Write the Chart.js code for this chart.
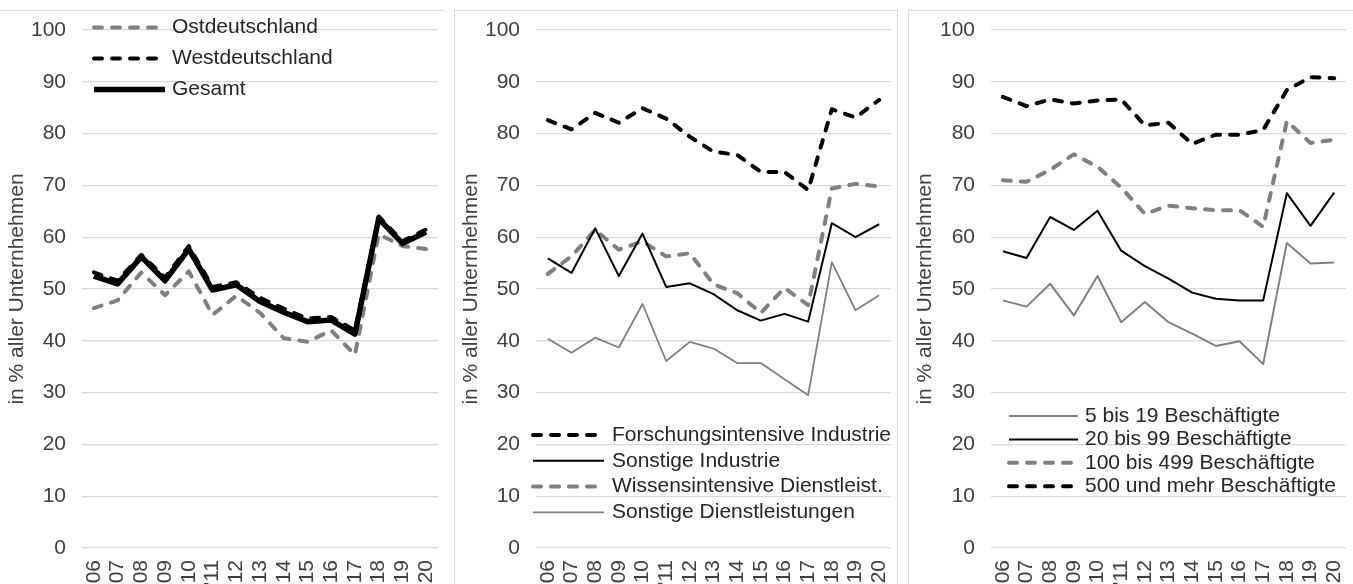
<!DOCTYPE html>
<html>
<head>
<meta charset="utf-8">
<script src="https://cdn.jsdelivr.net/npm/chart.js@4.4.1/dist/chart.umd.min.js"></script>
<style>
  body { margin: 0; background: #fff; overflow: hidden; width: 1353px; height: 584px; position: relative; font-family: "Liberation Sans", Arial, sans-serif; }
  canvas { position: absolute; }
  .rahmen { position: absolute; border: 1px solid #d9d9d9; }
</style>
</head>
<body>
<div class="rahmen" style="left:-10px; top:10px; width:453px; height:620px; border-right:none;"></div>
<div class="rahmen" style="left:454px; top:10px; width:442px; height:620px;"></div>
<div class="rahmen" style="left:908px; top:10px; width:460px; height:620px;"></div>

<canvas id="chart_region" width="443" height="610" style="left:0; top:11px;"></canvas>
<canvas id="chart_branche" width="443" height="610" style="left:454px; top:11px;"></canvas>
<canvas id="chart_groesse" width="445" height="610" style="left:908px; top:11px;"></canvas>

<script>
// Jahre (Kategorien der x-Achse)
const jahre = ["'06", "'07", "'08", "'09", "'10", "'11", "'12", "'13", "'14", "'15", "'16", "'17", "'18", "'19", "'20"];
const y_ticks = [0, 10, 20, 30, 40, 50, 60, 70, 80, 90, 100];

// Links: Ost / West / Gesamt
const ostdeutschland  = [46.3, 47.8, 53.2, 48.8, 53.4, 45.0, 48.7, 45.4, 40.5, 39.8, 42.0, 37.3, 60.6, 58.3, 57.7];
const westdeutschland = [53.2, 51.6, 56.6, 52.2, 58.3, 50.4, 51.3, 48.3, 46.2, 44.3, 44.6, 42.0, 64.0, 59.2, 61.5];
const gesamt          = [52.5, 51.0, 56.2, 51.6, 57.7, 49.8, 50.8, 47.6, 45.5, 43.7, 44.0, 41.3, 63.6, 58.8, 61.0];

// Mitte: Branchen
const forschungsintensiv = [82.6, 80.8, 84.0, 82.1, 84.9, 82.9, 79.4, 76.5, 75.9, 72.6, 72.6, 69.1, 84.7, 83.1, 86.5];
const sonstige_industrie = [55.9, 53.1, 61.7, 52.5, 60.7, 50.4, 51.1, 49.0, 45.9, 43.9, 45.2, 43.7, 62.7, 60.0, 62.5];
const wissensintensiv    = [52.9, 56.3, 61.4, 57.6, 59.2, 56.3, 56.9, 50.9, 49.2, 45.4, 50.2, 46.9, 69.4, 70.3, 69.8];
const sonstige_dienstl   = [40.4, 37.7, 40.6, 38.7, 47.1, 36.1, 39.8, 38.5, 35.7, 35.7, 32.6, 29.5, 55.2, 45.9, 48.8];

// Rechts: Größenklassen
const besch_5_19    = [47.8, 46.6, 51.0, 44.9, 52.5, 43.6, 47.5, 43.6, 41.4, 39.0, 39.9, 35.5, 58.9, 54.9, 55.1];
const besch_20_99   = [57.3, 56.0, 63.9, 61.4, 65.1, 57.4, 54.4, 52.0, 49.3, 48.1, 47.8, 47.8, 68.5, 62.2, 68.6];
const besch_100_499 = [71.0, 70.7, 73.0, 76.0, 73.6, 69.6, 64.5, 66.1, 65.6, 65.2, 65.2, 62.0, 82.4, 78.2, 78.8];
const besch_500     = [87.1, 85.3, 86.6, 85.8, 86.4, 86.6, 81.6, 82.1, 78.0, 79.8, 79.8, 80.7, 88.4, 90.9, 90.7];

const SCHWARZ = '#000000';
const GRAU = '#808080';
const schrift = '"Liberation Sans", Arial, sans-serif';

// Legende von Hand, weil sie im Original mitten im Diagramm steht
const legendePlugin = {
  id: 'legende_manual',
  afterDraw(chart, args, opts) {
    const ctx = chart.ctx;
    ctx.save();
    chart.data.datasets.forEach((ds, i) => {
      const y = opts.y + i * opts.zeile;
      ctx.beginPath();
      ctx.strokeStyle = ds.borderColor;
      ctx.lineWidth = ds.borderWidth;
      ctx.setLineDash(ds.borderDash || []);
      ctx.lineCap = ds.borderDash ? 'round' : 'butt';
      ctx.moveTo(opts.x, y);
      ctx.lineTo(opts.x + opts.laenge, y);
      ctx.stroke();
      ctx.setLineDash([]);
      ctx.fillStyle = '#262626';
      ctx.font = '21px ' + schrift;
      ctx.textBaseline = 'middle';
      ctx.textAlign = 'left';
      ctx.fillText(ds.label, opts.x + opts.laenge + opts.abstand, y);
    });
    ctx.restore();
  }
};

function linie(label, daten, farbe, breite, gestrichelt, reihenfolge) {
  return {
    label: label,
    data: daten,
    borderColor: farbe,
    backgroundColor: farbe,
    borderWidth: breite,
    borderDash: gestrichelt ? [8, 10] : undefined,
    borderCapStyle: gestrichelt ? 'round' : 'butt',
    borderJoinStyle: 'round',
    pointRadius: 0,
    tension: 0,
    fill: false,
    order: reihenfolge
  };
}

function optionen(links, rechts, legende) {
  return {
    responsive: false,
    animation: false,
    layout: { padding: { top: 19, right: rechts, bottom: 0, left: 0 } },
    plugins: {
      legend: { display: false },
      tooltip: { enabled: false },
      legende_manual: legende
    },
    scales: {
      x: {
        offset: true,
        grid: { display: false, drawTicks: false },
        border: { display: false },
        afterFit: function(scale) {
          scale.height = 73;
          scale.paddingLeft = 0;
          scale.paddingRight = 0;
        },
        ticks: {
          autoSkip: false,
          minRotation: 90,
          maxRotation: 90,
          padding: 12,
          color: '#404040',
          font: { family: schrift, size: 21 }
        }
      },
      y: {
        min: 0,
        max: 100,
        afterFit: function(scale) {
          scale.width = links;
          scale.paddingTop = 0;
          scale.paddingBottom = 0;
        },
        afterBuildTicks: function(scale) { scale.ticks = y_ticks.map(v => ({ value: v })); },
        grid: { color: '#d9d9d9', lineWidth: 1.3, drawTicks: false },
        border: { display: false },
        ticks: {
          padding: 16,
          color: '#404040',
          font: { family: schrift, size: 21 }
        },
        title: {
          display: true,
          text: 'in % aller Unternhehmen',
          color: '#404040',
          font: { family: schrift, size: 21 },
          padding: { top: 5, bottom: 4 }
        }
      }
    }
  };
}

new Chart(document.getElementById('chart_region'), {
  type: 'line',
  data: {
    labels: jahre,
    datasets: [
      linie('Ostdeutschland', ostdeutschland, GRAU, 4, true, 2),
      linie('Westdeutschland', westdeutschland, SCHWARZ, 4, true, 1),
      linie('Gesamt', gesamt, SCHWARZ, 5.5, false, 0)
    ]
  },
  options: optionen(82, 5, { x: 94, y: 16.5, zeile: 31, laenge: 71, abstand: 7 }),
  plugins: [legendePlugin]
});

new Chart(document.getElementById('chart_branche'), {
  type: 'line',
  data: {
    labels: jahre,
    datasets: [
      linie('Forschungsintensive Industrie', forschungsintensiv, SCHWARZ, 4, true, 0),
      linie('Sonstige Industrie', sonstige_industrie, SCHWARZ, 2, false, 1),
      linie('Wissensintensive Dienstleist.', wissensintensiv, GRAU, 4, true, 2),
      linie('Sonstige Dienstleistungen', sonstige_dienstl, GRAU, 1.8, false, 3)
    ]
  },
  options: optionen(82, 6, { x: 79, y: 424, zeile: 25.8, laenge: 71, abstand: 8 }),
  plugins: [legendePlugin]
});

new Chart(document.getElementById('chart_groesse'), {
  type: 'line',
  data: {
    labels: jahre,
    datasets: [
      linie('5 bis 19 Beschäftigte', besch_5_19, GRAU, 2, false, 3),
      linie('20 bis 99 Beschäftigte', besch_20_99, SCHWARZ, 2, false, 2),
      linie('100 bis 499 Beschäftigte', besch_100_499, GRAU, 4, true, 1),
      linie('500 und mehr Beschäftigte', besch_500, SCHWARZ, 4, true, 0)
    ]
  },
  options: optionen(83, 7, { x: 101, y: 405, zeile: 23.4, laenge: 69, abstand: 7 }),
  plugins: [legendePlugin]
});
</script>
</body>
</html>
